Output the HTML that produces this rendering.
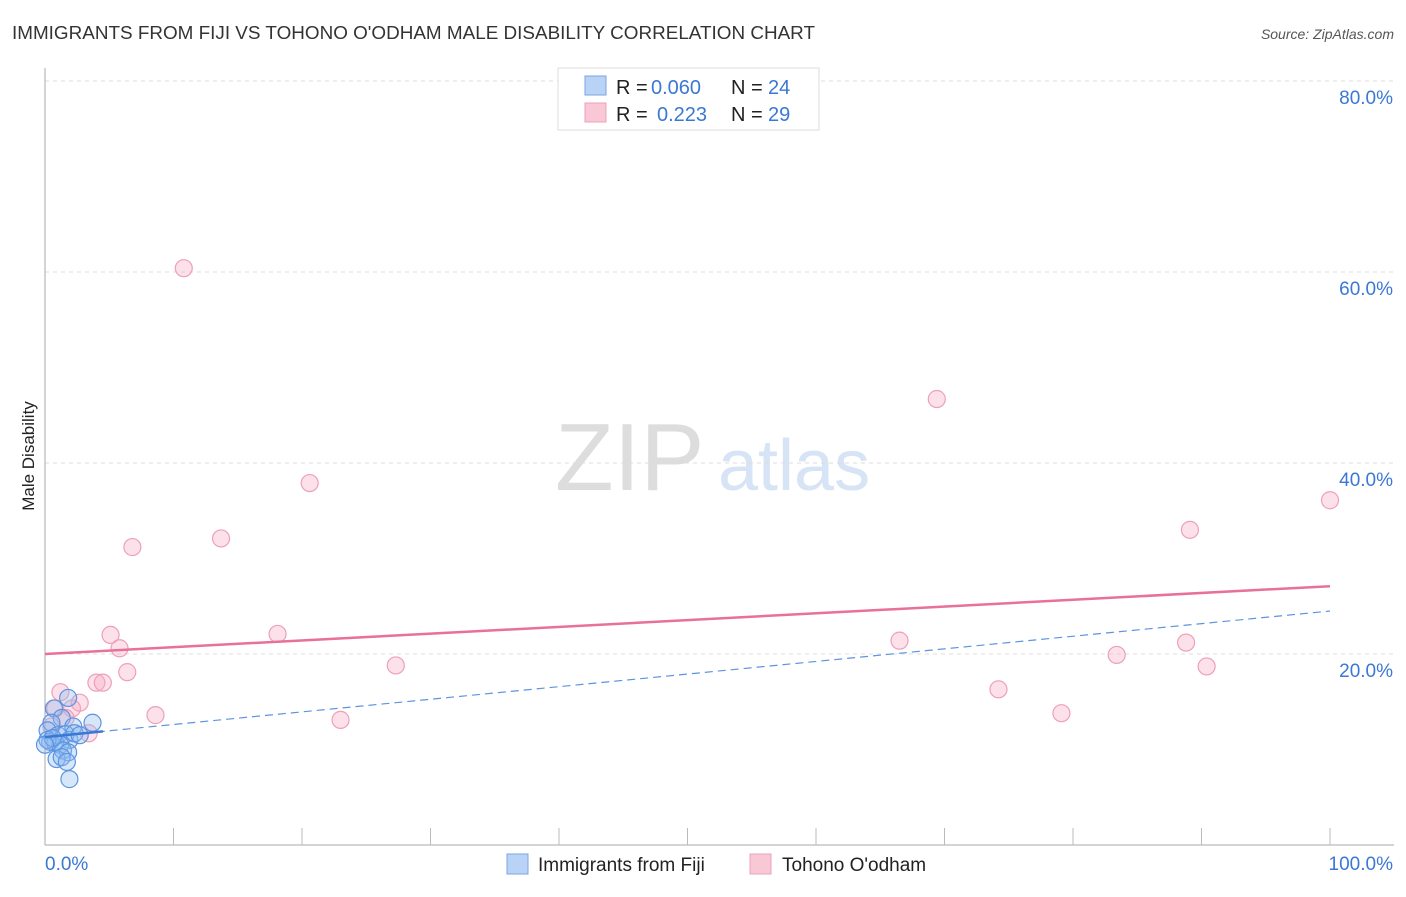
<!DOCTYPE html>
<html><head><meta charset="utf-8"><style>
body{margin:0;background:#fff;font-family:"Liberation Sans",sans-serif}
svg text{font-family:"Liberation Sans",sans-serif}
</style></head><body>
<svg id="c" width="1406" height="892">
<text x="12" y="39" font-size="18" fill="#333" textLength="803" lengthAdjust="spacingAndGlyphs">IMMIGRANTS FROM FIJI VS TOHONO O'ODHAM MALE DISABILITY CORRELATION CHART</text>
<text x="1394" y="39" font-size="14" fill="#555" font-style="italic" text-anchor="end">Source: ZipAtlas.com</text>
<text transform="translate(34,456) rotate(-90)" font-size="17" fill="#222" text-anchor="middle">Male Disability</text>
<text x="555" y="490" font-size="96" fill="#ddd" font-family="Liberation Serif">ZIP</text>
<text x="718" y="490" font-size="72" fill="#d6e4f5">atlas</text>
<g id="grid"></g><g id="pts"></g>
<g>
<rect x="558" y="68" width="261" height="62" fill="#fff" stroke="#ddd"/>
<rect x="585" y="76" width="21" height="19" fill="#b8d3f5" stroke="#7aa6e0"/>
<rect x="585" y="103" width="21" height="19" fill="#f9c8d6" stroke="#eea0b8"/>
<text x="616" y="94" font-size="20" fill="#222">R =</text>
<text x="651" y="94" font-size="20" fill="#3a78d4">0.060</text>
<text x="731" y="94" font-size="20" fill="#222">N =</text>
<text x="768" y="94" font-size="20" fill="#3a78d4">24</text>
<text x="616" y="121" font-size="20" fill="#222">R =</text>
<text x="657" y="121" font-size="20" fill="#3a78d4">0.223</text>
<text x="731" y="121" font-size="20" fill="#222">N =</text>
<text x="768" y="121" font-size="20" fill="#3a78d4">29</text>
</g>
<g>
<rect x="507" y="854" width="21" height="20" fill="#b8d3f5" stroke="#7aa6e0"/>
<text x="538" y="871" font-size="19" fill="#222">Immigrants from Fiji</text>
<rect x="750" y="854" width="21" height="20" fill="#f9c8d6" stroke="#eea0b8"/>
<text x="782" y="871" font-size="19" fill="#222">Tohono O'odham</text>
</g>
</svg>
<script>
const yTicks=[20,40,60,80];
const yTickLabels=["20.0%","40.0%","60.0%","80.0%"];
const fijiX=[1.8,0.7,1.3,3.7,0.5,2.2,0.2,1.0,1.6,1.9,0.4,0.8,1.2,0.2,1.4,1.8,0.9,1.3,1.7,1.9,0.6,2.3,0,2.7];
const fijiY=[15.4,14.3,13.3,12.8,12.8,12.4,12.0,11.5,11.6,11.0,10.8,10.7,10.5,11.0,9.9,9.7,9.0,9.2,8.7,6.9,11.2,11.7,10.5,11.5];
const tohX=[10.8,69.4,20.6,100,13.7,6.8,89.1,5.1,18.1,5.8,66.5,83.4,88.8,90.4,27.3,6.4,4.0,4.5,74.2,1.2,2.7,2.1,8.6,79.1,23.0,3.4,0.5,1.6,0.8];
const tohY=[60.4,46.7,37.9,36.1,32.1,31.2,33.0,22.0,22.1,20.6,21.4,19.9,21.2,18.7,18.8,18.1,17.0,17.0,16.3,16.0,14.9,14.3,13.6,13.8,13.1,11.7,12.4,13.3,14.3];
const fijiTrend=[11.3,24.5];
const tohTrend=[20.0,27.1];
const X=v=>45+v*12.85, Y=v=>845-v*9.55;
const NS="http://www.w3.org/2000/svg";
function mk(t,a,p){const e=document.createElementNS(NS,t);for(const k in a)e.setAttribute(k,a[k]);p.appendChild(e);return e;}
const g=document.getElementById('grid'), P=document.getElementById('pts');
yTicks.forEach((t,i)=>{
 const l=mk('line',{x1:45,x2:1394,y1:Y(t),y2:Y(t),stroke:'#ddd','stroke-dasharray':'4,4'},g);
 
 
 const tx=mk('text',{x:1393,y:Y(t)+23,'font-size':19,fill:'#3a78d4','text-anchor':'end'},g);
 tx.textContent=yTickLabels[i];
 
 
});
mk('line',{x1:45,x2:45,y1:68,y2:845,stroke:'#aaa'},g);
mk('line',{x1:45,x2:1394,y1:845,y2:845,stroke:'#aaa'},g);
for(let i=1;i<=10;i++){mk('line',{x1:X(i*10),x2:X(i*10),y1:828,y2:845,stroke:'#bbb'},g);}
const x0=mk('text',{x:45,y:870,'font-size':19,fill:'#3a78d4'},g);x0.textContent='0.0%';


const x1=mk('text',{x:1393,y:870,'font-size':19,fill:'#3a78d4','text-anchor':'end'},g);x1.textContent='100.0%';


tohX.forEach((v,i)=>{const c=mk('circle',{cx:X(v),cy:Y(tohY[i]),r:8.5,fill:'rgba(245,170,195,0.35)',stroke:'#eea0b8','stroke-width':1.2},P);
 
 });
fijiX.forEach((v,i)=>{const c=mk('circle',{cx:X(v),cy:Y(fijiY[i]),r:8.5,fill:'rgba(140,185,240,0.35)',stroke:'#5c94e0','stroke-width':1.2},P);
 
 });
const ft=v=>fijiTrend[0]+(fijiTrend[1]-fijiTrend[0])*v/100;
const fl=mk('line',{x1:X(0),y1:Y(ft(0)),x2:X(100),y2:Y(ft(100)),stroke:'#5c94e0','stroke-width':1.2,'stroke-dasharray':'8,5'},P);


mk('line',{x1:X(0),y1:Y(ft(0)),x2:X(4.5),y2:Y(ft(4.5)),stroke:'#3a78d4','stroke-width':2.5},P);
const tl=mk('line',{x1:X(0),y1:Y(tohTrend[0]),x2:X(100),y2:Y(tohTrend[1]),stroke:'#e8709a','stroke-width':2.5},P);


</script>
</body></html>
